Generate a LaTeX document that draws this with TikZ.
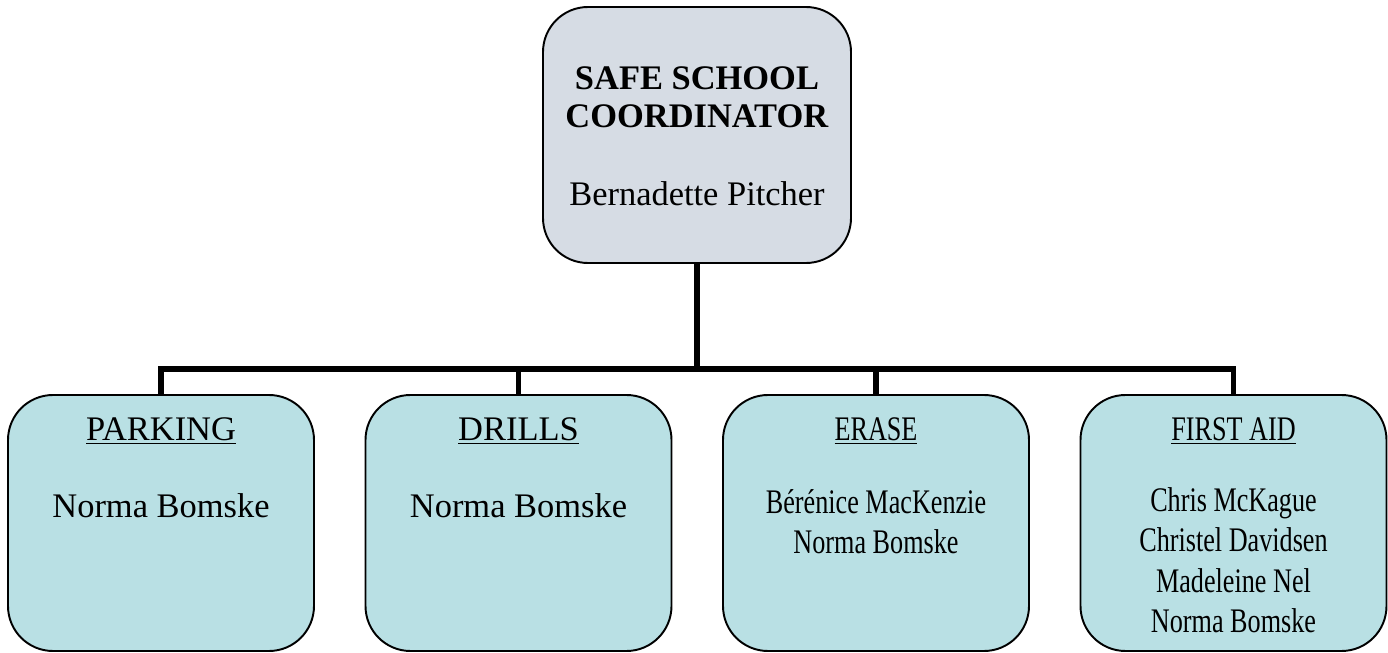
\documentclass[tikz,border=0pt]{standalone}
\usepackage{fontspec}
\setmainfont{Liberation Serif}
\newfontfamily\narrowserif{Liberation Serif}[FakeStretch=0.76]
\usetikzlibrary{positioning}

\definecolor{chieffill}{RGB}{214,220,228}
\definecolor{teamfill}{RGB}{185,224,228}

\begin{document}
\begin{tikzpicture}[node distance=7.15cm,on grid,
		chief/.style={draw,line width=1.1pt,rounded corners=0.9cm,fill=chieffill,inner sep=0pt,
			minimum width=6.16cm,minimum height=5.12cm},
		team/.style={draw,line width=1.1pt,rounded corners=0.9cm,fill=teamfill,inner sep=0pt,
			minimum width=6.12cm,minimum height=5.12cm},
		bus/.style={line width=3.4pt,line join=miter}]
		\useasboundingbox (0,0) rectangle (27.76,13.04);
		\node[chief]         (coord)    at (13.94,10.34) {\parbox[c][5.12cm][t]{6cm}{\centering\fontsize{19.6}{21.6}\selectfont
				\vspace*{1.19cm}\textbf{SAFE SCHOOL}\\\textbf{COORDINATOR}\\[0.8cm]Bernadette Pitcher}};
		\node[team]          (drills)   at (10.37,2.58) {\parbox[c][5.12cm][t]{6cm}{\centering\fontsize{19.6}{22}\selectfont
				\vspace*{0.46cm}\underline{DRILLS}\\[0.76cm]Norma Bomske}};
		\node[team]          (parking)  [left=of drills] {\parbox[c][5.12cm][t]{6cm}{\centering\fontsize{19.6}{22}\selectfont
				\vspace*{0.46cm}\underline{PARKING}\\[0.76cm]Norma Bomske}};
		\node[team]          (erase)    [right=of drills] {\parbox[c][5.12cm][t]{6cm}{\centering\narrowserif\fontsize{19.6}{22.8}\selectfont
				\vspace*{0.46cm}\underline{ERASE}\\[0.66cm]Bérénice MacKenzie\\Norma Bomske}};
		\node[team]          (firstaid) [right=of erase] {\parbox[c][5.12cm][t]{6cm}{\centering\narrowserif\fontsize{19.6}{22.8}\selectfont
				\vspace*{0.46cm}\underline{FIRST AID}\\[0.62cm]Chris McKague\\Christel Davidsen\\Madeleine Nel\\Norma Bomske}};
		\coordinate (branch) at (13.94,5.66);
		
		\draw[bus] (coord.south) -- (branch)
		(parking.north) -- (parking.north |- branch) -| (firstaid.north)
		(drills.north) -- (drills.north |- branch)
		(erase.north) -- (erase.north |- branch);
	\end{tikzpicture}
\end{document}
